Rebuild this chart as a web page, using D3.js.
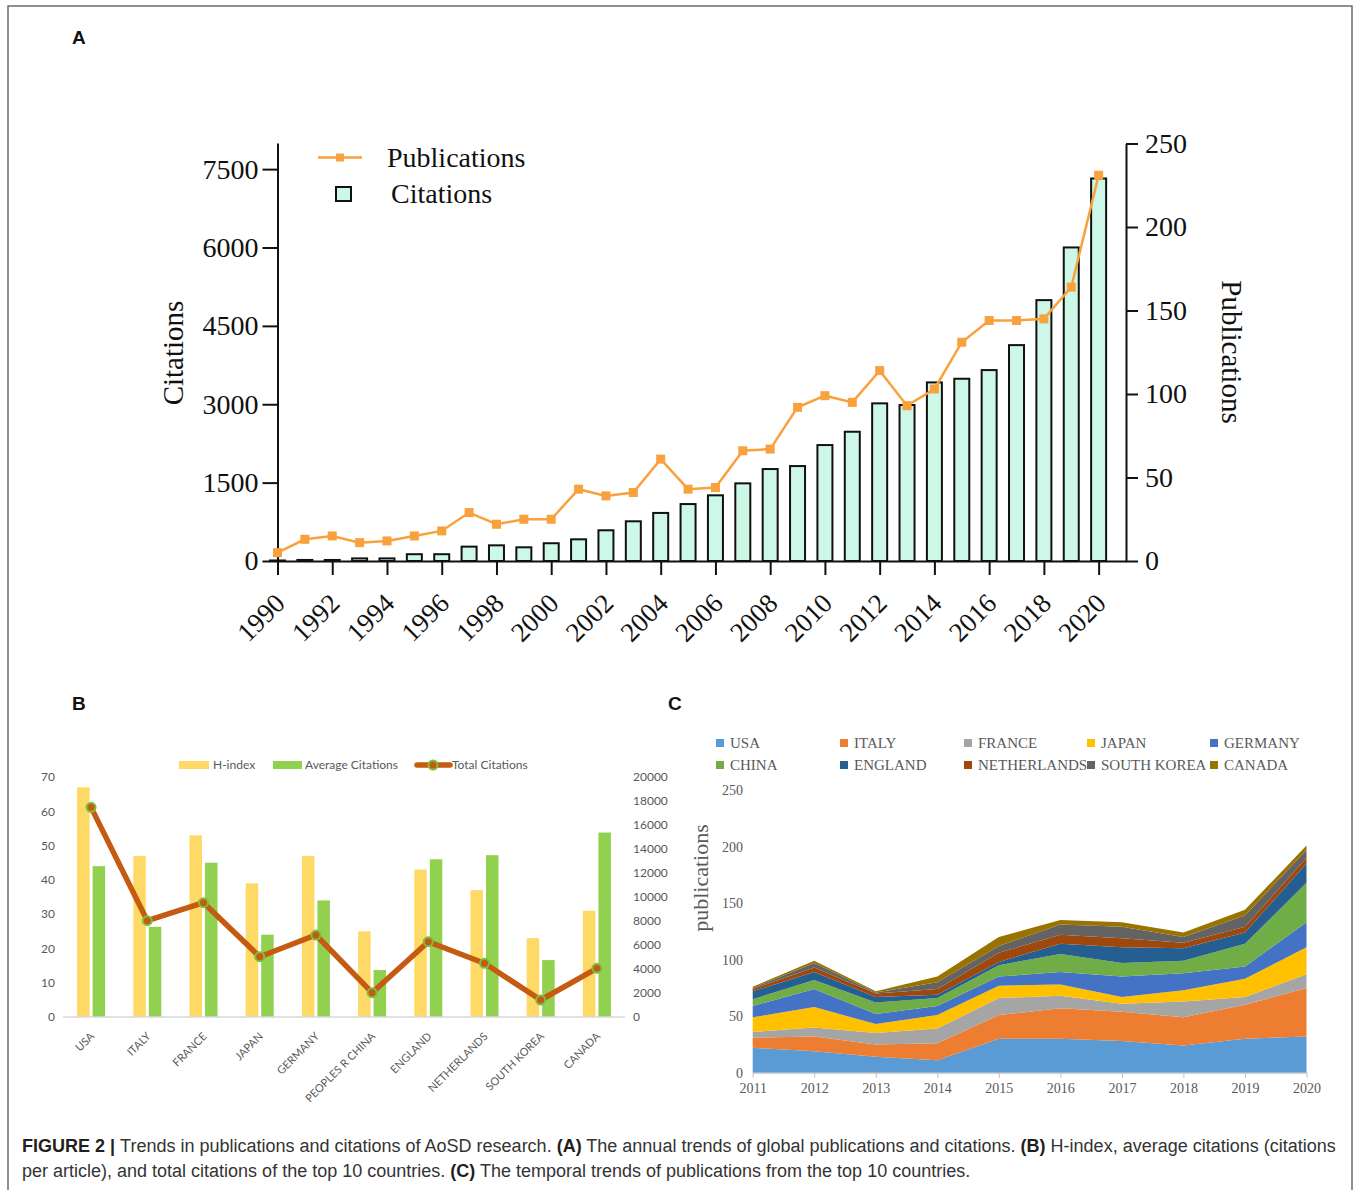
<!DOCTYPE html>
<html><head><meta charset="utf-8">
<script src="https://cdn.jsdelivr.net/npm/d3@7"></script>
<style>body{margin:0;background:#fff}svg{display:block}</style>
</head><body><svg id="c" width="1357" height="1190"></svg>
<script>
// ---------- Panel A data ----------
const yearsA = [1990,1991,1992,1993,1994,1995,1996,1997,1998,1999,2000,2001,2002,2003,2004,2005,2006,2007,2008,2009,2010,2011,2012,2013,2014,2015,2016,2017,2018,2019,2020];
const citations = [10,20,20,50,50,130,130,275,300,262,340,415,588,760,920,1090,1257,1486,1760,1817,2219,2474,3017,2985,3418,3488,3654,4132,4993,6001,7321];
const publications = [5,13,15,11,12,15,18,29,22,25,25,43,39,41,61,43,44,66,67,92,99,95,114,93,103,131,144,144,145,164,231];
const citTicks = [0,1500,3000,4500,6000,7500];
const pubTicks = [0,50,100,150,200,250];
const yearTicksA = [1990,1992,1994,1996,1998,2000,2002,2004,2006,2008,2010,2012,2014,2016,2018,2020];

// ---------- Panel B data ----------
const countriesB = ["USA","ITALY","FRANCE","JAPAN","GERMANY","PEOPLES R CHINA","ENGLAND","NETHERLANDS","SOUTH KOREA","CANADA"];
const hIndex = [67,47,53,39,47,25,43,37,23,31];
const avgCitations = [44,26.3,45,24,34,13.7,46,47.2,16.6,53.8];
const totalCitations = [17470,8025,9525,5025,6830,2025,6275,4475,1417,4058];
const bLeftTicks = [0,10,20,30,40,50,60,70];
const bRightTicks = [0,2000,4000,6000,8000,10000,12000,14000,16000,18000,20000];

// ---------- Panel C data ----------
const yearsC = [2011,2012,2013,2014,2015,2016,2017,2018,2019,2020];
const countriesC = ["USA","ITALY","FRANCE","JAPAN","GERMANY","CHINA","ENGLAND","NETHERLANDS","SOUTH KOREA","CANADA"];
const usaC = [22,19,14,11,30,30,28,24,30,32];
const italyC = [9,13,11,15,21,27,26,25,30,43];
const franceC = [5,8,10,13,15,11,7,14,7,12];
const japanC = [13,18,8,12,11,10,6,10,16,24];
const germanyC = [10,16,9,8,8,11,18,15,11,22];
const chinaC = [6,8,10,7,10,16,12,11,20,35];
const englandC = [7,7,5,3,3,9,14,11,10,17];
const netherlandsC = [2,4,3,5,8,8,8,5,5,5];
const southKoreaC = [1,4,1,6,6,9,10,5,10,7];
const canadaC = [1,2,1,5,8,4,4,4,5,4];
const colorsC = ["#5b9bd5","#ed7d31","#a5a5a5","#ffc000","#4472c4","#70ad47","#255e91","#9e480e","#636363","#997300"];
const cTicks = [0,50,100,150,200,250];

const serif = "'Liberation Serif','Times New Roman',serif";
const sans = "'Liberation Sans',Arial,sans-serif";
const lato = "Lato,'Open Sans',sans-serif";
const fmt = d3.format('d');

const svg = d3.select('#c');
svg.append('rect').attr('width',1357).attr('height',1190).attr('fill','#fff');
svg.append('path').attr('d','M8,1195 V6 H1352 V1195').attr('fill','none').attr('stroke','#6b6b6b').attr('stroke-width',1.5);

// panel letters
[['A',72,44],['B',72,710],['C',668,710]].forEach(([t,x,y])=>{
  svg.append('text').attr('x',x).attr('y',y).text(t).attr('font-family',sans).attr('font-weight','bold').attr('font-size',19).attr('fill','#111');
});

// =============== Panel A ===============
const xA = d3.scaleLinear().domain([1990,2021]).range([277.5,1126]);
const yA = d3.scaleLinear().domain([0,8000]).range([561,143]);
const yAR = d3.scaleLinear().domain([0,250]).range([561,143.5]);
const gA = svg.append('g');

gA.selectAll('rect.bar').data(yearsA.map((y,i)=>({y, v:citations[i]}))).join('rect')
  .attr('class','bar')
  .attr('x', d=>xA(d.y)-7.5).attr('width',15)
  .attr('y', d=>yA(d.v)).attr('height', d=>yA(0)-yA(d.v))
  .attr('fill','#cdf7e6').attr('stroke','#111').attr('stroke-width',2);

const styleAxA = g => {
  g.attr('font-family',serif).attr('font-size',28).attr('color','#111');
  g.selectAll('line,path').attr('stroke-width',2);
};
gA.append('g').attr('transform','translate(277.5,0)')
  .call(d3.axisLeft(yA).tickValues(citTicks).tickFormat(fmt).tickSize(15).tickPadding(4).tickSizeOuter(0))
  .call(styleAxA);
gA.append('g').attr('transform','translate(1126,0)')
  .call(d3.axisRight(yAR).tickValues(pubTicks).tickFormat(fmt).tickSize(12).tickPadding(7).tickSizeOuter(0))
  .call(styleAxA);
gA.append('g').attr('transform','translate(0,561)')
  .call(d3.axisBottom(xA).tickValues(yearTicksA).tickSize(14).tickSizeOuter(0).tickFormat(''))
  .call(styleAxA);
gA.selectAll('text.yl').data(yearTicksA).join('text').attr('class','yl')
  .attr('transform', d=>`translate(${xA(d)+9},605) rotate(-45)`)
  .attr('text-anchor','end').attr('font-family',serif).attr('font-size',27).attr('fill','#111')
  .text(d=>d);

const lineA = d3.line().x((d,i)=>xA(yearsA[i])).y(d=>yAR(d));
gA.append('path').attr('d',lineA(publications)).attr('fill','none').attr('stroke','#f9a13d').attr('stroke-width',2.5);
gA.selectAll('rect.mk').data(publications).join('rect').attr('class','mk')
  .attr('x',(d,i)=>xA(yearsA[i])-4.5).attr('y',d=>yAR(d)-4.5).attr('width',9).attr('height',9).attr('fill','#f9a13d');

// legend A
gA.append('line').attr('x1',318).attr('x2',362).attr('y1',157.5).attr('y2',157.5).attr('stroke','#f9a13d').attr('stroke-width',2.5);
gA.append('rect').attr('x',336).attr('y',153.5).attr('width',8).attr('height',8).attr('fill','#f9a13d');
gA.append('text').attr('x',387).attr('y',167).text('Publications').attr('font-family',serif).attr('font-size',28).attr('fill','#111');
gA.append('rect').attr('x',336).attr('y',187).attr('width',15).attr('height',14).attr('fill','#cdf7e6').attr('stroke','#111').attr('stroke-width',2);
gA.append('text').attr('x',391).attr('y',203).text('Citations').attr('font-family',serif).attr('font-size',28).attr('fill','#111');

gA.append('text').attr('transform','translate(183,353) rotate(-90)').attr('text-anchor','middle')
  .attr('font-family',serif).attr('font-size',29).attr('fill','#111').text('Citations');
gA.append('text').attr('transform','translate(1222,352) rotate(90)').attr('text-anchor','middle')
  .attr('font-family',serif).attr('font-size',29).attr('fill','#111').text('Publications');

// =============== Panel B ===============
const xB = d3.scaleBand().domain(countriesB).range([63,625]);
const yB = d3.scaleLinear().domain([0,70]).range([1017,777]);
const yBR = d3.scaleLinear().domain([0,20000]).range([1017,777]);
const gB = svg.append('g');
const cB = c => xB(c)+xB.bandwidth()/2;

gB.append('g').attr('transform','translate(55,0)')
  .call(d3.axisLeft(yB).tickValues(bLeftTicks).tickFormat(fmt).tickSize(0).tickPadding(0))
  .call(g=>{g.select('.domain').remove(); g.attr('font-family',lato).attr('font-size',12).attr('color','#595959');});
gB.append('g').attr('transform','translate(633,0)')
  .call(d3.axisRight(yBR).tickValues(bRightTicks).tickFormat(fmt).tickSize(0).tickPadding(0))
  .call(g=>{g.select('.domain').remove(); g.attr('font-family',lato).attr('font-size',12).attr('color','#595959');});

gB.selectAll('rect.h').data(countriesB).join('rect').attr('class','h')
  .attr('x',c=>cB(c)-14).attr('width',12.5)
  .attr('y',(c,i)=>yB(hIndex[i])).attr('height',(c,i)=>yB(0)-yB(hIndex[i]))
  .attr('fill','#ffd966');
gB.selectAll('rect.a').data(countriesB).join('rect').attr('class','a')
  .attr('x',c=>cB(c)+1.5).attr('width',12.5)
  .attr('y',(c,i)=>yB(avgCitations[i])).attr('height',(c,i)=>yB(0)-yB(avgCitations[i]))
  .attr('fill','#92d050');
gB.append('line').attr('x1',63).attr('x2',625).attr('y1',1017).attr('y2',1017).attr('stroke','#d9d9d9').attr('stroke-width',1.5);

const lineB = d3.line().x((d,i)=>cB(countriesB[i])).y(d=>yBR(d));
gB.append('path').attr('d',lineB(totalCitations)).attr('fill','none').attr('stroke','#c55a11').attr('stroke-width',5.5).attr('stroke-linejoin','round');
gB.selectAll('circle.t').data(totalCitations).join('circle').attr('class','t')
  .attr('cx',(d,i)=>cB(countriesB[i])).attr('cy',d=>yBR(d)).attr('r',4.5)
  .attr('fill','#c55a11').attr('stroke','#7ac143').attr('stroke-width',2);

gB.selectAll('text.cl').data(countriesB).join('text').attr('class','cl')
  .attr('transform',c=>`translate(${cB(c)+4},1037) rotate(-45)`)
  .attr('text-anchor','end').attr('font-family',lato).attr('font-size',11).attr('fill','#595959').text(c=>c);

// legend B
gB.append('rect').attr('x',179).attr('y',761).attr('width',30).attr('height',8).attr('fill','#ffd966');
gB.append('text').attr('x',213).attr('y',769).text('H-index').attr('font-family',lato).attr('font-size',12).attr('fill','#595959');
gB.append('rect').attr('x',273).attr('y',761).attr('width',29).attr('height',8).attr('fill','#92d050');
gB.append('text').attr('x',305).attr('y',769).text('Average Citations').attr('font-family',lato).attr('font-size',12).attr('fill','#595959');
gB.append('line').attr('x1',417).attr('x2',450).attr('y1',765).attr('y2',765).attr('stroke','#c55a11').attr('stroke-width',5.5).attr('stroke-linecap','round');
gB.append('circle').attr('cx',433).attr('cy',765).attr('r',4.5).attr('fill','#c55a11').attr('stroke','#7ac143').attr('stroke-width',2);
gB.append('text').attr('x',452).attr('y',769).text('Total Citations').attr('font-family',lato).attr('font-size',12).attr('fill','#595959');

// =============== Panel C ===============
const seriesC = [usaC,italyC,franceC,japanC,germanyC,chinaC,englandC,netherlandsC,southKoreaC,canadaC];
const tableC = yearsC.map((y,i)=>{const o={year:y}; countriesC.forEach((c,k)=>o[c]=seriesC[k][i]); return o;});
const stackC = d3.stack().keys(countriesC)(tableC);
const xC = d3.scaleLinear().domain([2011,2020]).range([752.7,1306.5]);
const yC = d3.scaleLinear().domain([0,250]).range([1072.7,790]);
const gC = svg.append('g');
const areaC = d3.area().x(d=>xC(d.data.year)).y0(d=>yC(d[0])).y1(d=>yC(d[1]));
gC.selectAll('path.s').data(stackC).join('path').attr('class','s').attr('d',areaC).attr('fill',(d,i)=>colorsC[i]);

gC.append('g').attr('transform','translate(743,0)')
  .call(d3.axisLeft(yC).tickValues(cTicks).tickFormat(fmt).tickSize(0).tickPadding(0))
  .call(g=>{g.select('.domain').remove(); g.attr('font-family',serif).attr('font-size',14).attr('color','#595959');});
gC.append('g').attr('transform','translate(0,1072.7)')
  .call(d3.axisBottom(xC).tickValues(yearsC).tickSize(5).tickPadding(5).tickSizeOuter(0).tickFormat(fmt))
  .call(g=>{g.attr('font-family',serif).attr('font-size',14).attr('color','#595959'); g.selectAll('line,path').attr('stroke','#bfbfbf');});
gC.append('text').attr('transform','translate(708,878) rotate(-90)').attr('text-anchor','middle')
  .attr('font-family',serif).attr('font-size',22).attr('fill','#595959').text('publications');

const legX = [716,840,964,1087,1210];
countriesC.forEach((c,i)=>{
  const x = legX[i%5], y = i<5 ? 743 : 765;
  gC.append('rect').attr('x',x).attr('y',y-4).attr('width',8).attr('height',8).attr('fill',colorsC[i]);
  gC.append('text').attr('x',x+14).attr('y',y+5).text(c).attr('font-family',serif).attr('font-size',15).attr('fill','#595959');
});

// =============== Caption ===============
const cap1 = svg.append('text').attr('x',22).attr('y',1152).attr('font-family',sans).attr('font-size',16).attr('fill','#333');
cap1.append('tspan').attr('font-weight','bold').attr('fill','#231f20').text('FIGURE 2 | ');
cap1.append('tspan').text('Trends in publications and citations of AoSD research. ');
cap1.append('tspan').attr('font-weight','bold').attr('fill','#231f20').text('(A)');
cap1.append('tspan').text(' The annual trends of global publications and citations. ');
cap1.append('tspan').attr('font-weight','bold').attr('fill','#231f20').text('(B)');
cap1.append('tspan').text(' H-index, average citations (citations');
const cap2 = svg.append('text').attr('x',22).attr('y',1177).attr('font-family',sans).attr('font-size',16).attr('fill','#333');
cap2.append('tspan').text('per article), and total citations of the top 10 countries. ');
cap2.append('tspan').attr('font-weight','bold').attr('fill','#231f20').text('(C)');
cap2.append('tspan').text(' The temporal trends of publications from the top 10 countries.');
const w1 = cap1.node().getComputedTextLength();
const fs = 16*1315/w1;
cap1.attr('font-size',fs); cap2.attr('font-size',fs);
</script>
</body></html>
